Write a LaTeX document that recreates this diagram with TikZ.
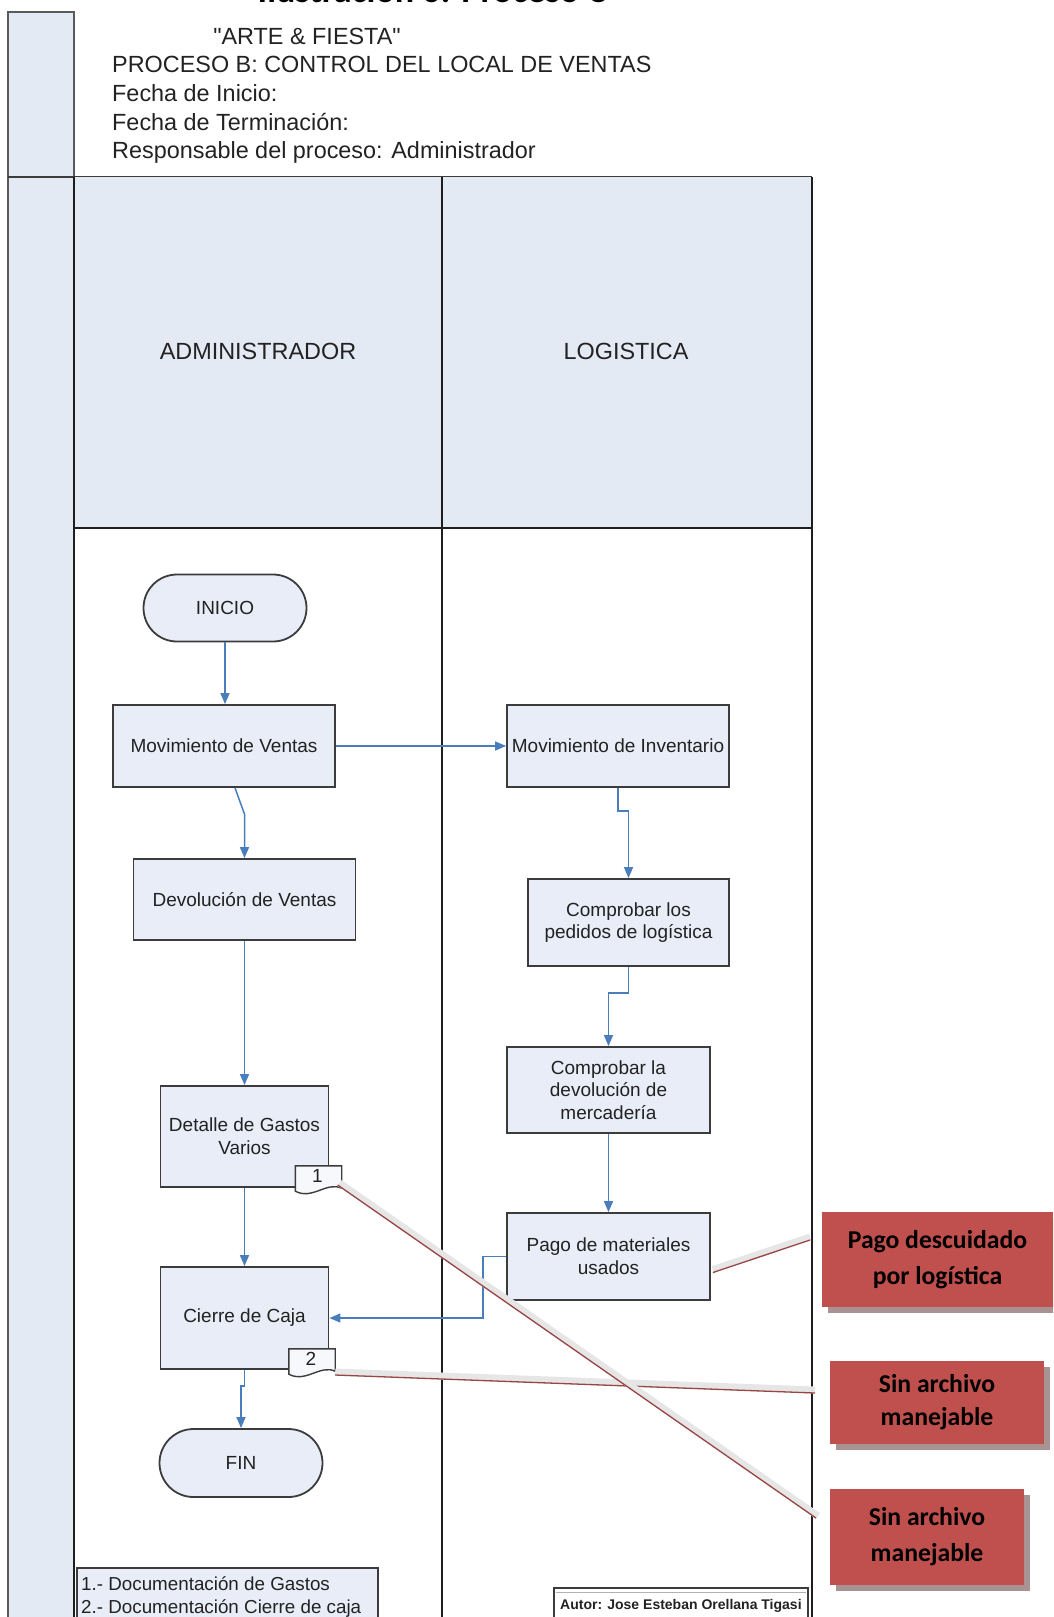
\documentclass[tikz,border=0pt]{standalone}
\usepackage{fontspec}
\setmainfont{Liberation Sans}
\newfontfamily\calib{Carlito}
\usetikzlibrary{arrows.meta,shapes.misc,calc,shadows}
\definecolor{laneblue}{HTML}{E4EAF4}
\definecolor{boxfill}{HTML}{E8EDF7}
\definecolor{boxline}{HTML}{3C3C3C}
\definecolor{laneink}{HTML}{1E1E1E}
\definecolor{stripink}{HTML}{5A5A5A}
\definecolor{flowblue}{HTML}{4A7EBB}
\definecolor{alertred}{HTML}{C0504D}
\definecolor{shadowc}{HTML}{A89292}
\definecolor{ribbonc}{HTML}{E6E6E6}
\definecolor{ribbonred}{HTML}{9A4545}
\definecolor{textc}{HTML}{222222}
\begin{document}
\begin{tikzpicture}[x=1pt,y=-1pt,
  laneline/.style={draw=laneink, line width=1.5pt},
  stripline/.style={draw=stripink, line width=1.5pt},
  procbox/.style={draw=boxline, line width=1.8pt, fill=boxfill, align=center, inner sep=2pt, text=textc, font=\fontsize{19}{22.7}\selectfont},
  termbox/.style={rounded rectangle, draw=boxline, line width=1.8pt, fill=boxfill, inner sep=2pt, text=textc, font=\fontsize{19}{22.7}\selectfont},
  flow/.style={draw=flowblue, line width=1.5pt, -{Triangle[length=11pt,width=9pt]}},
  tagnode/.style={minimum width=46pt, minimum height=28pt, inner sep=0pt},
  tagnum/.style={inner sep=0pt, text=textc, font=\fontsize{19}{20}\selectfont},
  tagline/.style={draw=boxline, line width=1.4pt, fill=boxfill!40!white},
  alertbox/.style={fill=alertred, align=center, inner sep=0pt, text=black, font=\calib\bfseries\fontsize{25.7}{36}\selectfont, drop shadow={shadow xshift=6pt, shadow yshift=-6pt, fill=shadowc, opacity=1}},
  ribbon/.style={draw=ribbonc, line width=7pt},
  ribbonedge/.style={draw=ribbonred, line width=1.3pt},
  headtext/.style={font=\fontsize{23.4}{28.8}\selectfont, text=textc, inner sep=0pt},
  legtext/.style={font=\fontsize{18.8}{22.7}\selectfont, text=textc, inner sep=0pt},
  smallbox/.style={draw=boxline, line width=1.5pt},
]
\useasboundingbox (0,0) rectangle (1053,1617);
\clip (0,0) rectangle (1053,1617);

% title fragment cut at top
\node[anchor=base, inner sep=0pt, font=\calib\bfseries\fontsize{36}{40}\selectfont] (title) at (432,2) {Ilustración 6: Proceso C};

% left strip
\fill[laneblue] (8,12) rectangle (74,1630);
\draw[stripline] (8,12) rectangle (74,177);
\draw[stripline] (8,177) -- (8,1630);
% header line
\draw[draw=boxline, line width=2.2pt] (8,177) -- (812,177);
% lanes
\fill[laneblue] (74,177) rectangle (812,528);
\draw[laneline] (74,177) -- (74,1630);
\draw[laneline] (442,177) -- (442,1630);
\draw[laneline] (812,177) -- (812,1630);
\draw[laneline] (74,528) -- (812,528);

% header texts
\node[headtext, anchor=base] (arte) at (307,44.5) {\textquotedbl ARTE \& FIESTA\textquotedbl};
\node[headtext, anchor=base west] (proc) at (112,72.5) {PROCESO B: CONTROL DEL LOCAL DE VENTAS};
\node[headtext, anchor=base west] (fini) at (112,101) {Fecha de Inicio:};
\node[headtext, anchor=base west] (fter) at (112,130) {Fecha de Terminación:};
\node[headtext, anchor=base west] (resp) at (112,158.5) {Responsable del proceso: Administrador};

\node[headtext] (admin) at (258,351) {ADMINISTRADOR};
\node[headtext] (logi) at (626,351) {LOGISTICA};

% process nodes
\node[termbox, minimum width=167pt, minimum height=67pt] (inicio) at (225,608) {INICIO};
\node[procbox, minimum width=222pt, minimum height=82pt] (mv) at (224,746) {Movimiento de Ventas};
\node[procbox, minimum width=222pt, minimum height=81pt] (dv) at (244.5,899.5) {Devolución de Ventas};
\node[procbox, minimum width=168pt, minimum height=101pt] (dg) at (244.5,1136.5) {Detalle de Gastos\\Varios};
\node[procbox, minimum width=168pt, minimum height=102pt] (cc) at (244.5,1318) {Cierre de Caja};
\node[termbox, minimum width=167pt, minimum height=68pt] (fin) at (241,1463) {FIN};
\node[procbox, minimum width=222pt, minimum height=82pt] (mi) at (618,746) {Movimiento de Inventario};
\node[procbox, minimum width=201pt, minimum height=87pt] (cp) at (628.5,922.5) {Comprobar los\\pedidos de logística};
\node[procbox, minimum width=203pt, minimum height=86pt] (cd) at (608.5,1090) {Comprobar la\\devolución de\\mercadería};
\node[procbox, minimum width=203pt, minimum height=87pt] (pm) at (608.5,1256.5) {Pago de materiales\\usados};

% connectors
\draw[flow] (inicio.south) -- (inicio.south |- mv.north);
\draw[flow] (mv.east) -- (mi.west);
\draw[flow] ($(mv.south)+(11,0)$) -- ($(dv.north)+(0,-44)$) -- (dv.north);
\draw[flow] (dv.south) -- (dg.north);
\draw[flow] (dg.south) -- (cc.north);
\draw[flow] (cc.south) -- ++(0,16) -| (fin.north);
\draw[flow] (mi.south) -- ++(0,23) -| (cp.north);
\draw[flow] (cp.south) -- ++(0,26) -| (cd.north);
\draw[flow] (cd.south) -- (pm.north);
\draw[flow] (pm.west) -- ++(-23,0) |- (cc.east);

% document tags
\node[tagnode] (t1) at (318.5,1180) {};
\draw[tagline] (t1.north west) -- (t1.north east) -- ($(t1.south east)+(0,-6)$)
  .. controls ($(t1.south)+(8,-13)$) and ($(t1.south)+(-6,6)$) .. ($(t1.south west)+(0,-3)$) -- cycle;
\node[tagnum] (t1n) at ($(t1)+(-1,-4)$) {1};
\node[tagnode] (t2) at (312,1363) {};
\draw[tagline] (t2.north west) -- (t2.north east) -- ($(t2.south east)+(0,-6)$)
  .. controls ($(t2.south)+(8,-13)$) and ($(t2.south)+(-6,6)$) .. ($(t2.south west)+(0,-3)$) -- cycle;
\node[tagnum] (t2n) at ($(t2)+(-1,-4)$) {2};

% legend
\draw[smallbox, fill=boxfill] (77,1568) rectangle (378,1630);
\node[legtext, anchor=base west] (leg1) at (81,1590) {1.- Documentación de Gastos};
\node[legtext, anchor=base west] (leg2) at (81,1613) {2.- Documentación Cierre de caja};

% author
\draw[smallbox, fill=white] (554,1588) rectangle (808,1630);
\draw[draw=gray!60, line width=1pt] (556,1592) -- (806,1592);
\node[anchor=base west, inner sep=0pt, text=textc, font=\bfseries\fontsize{14}{16}\selectfont] (autor) at (560,1609) {Autor: Jose Esteban Orellana Tigasi};

% alert boxes
\node[alertbox, minimum width=231pt, minimum height=95pt] (r1) at (937.5,1259.5) {Pago descuidado\\por logística};
\node[alertbox, minimum width=214pt, minimum height=83pt, font=\calib\bfseries\fontsize{25.7}{33}\selectfont] (r2) at (937,1402.5) {Sin archivo\\manejable};
\node[alertbox, minimum width=194pt, minimum height=96pt] (r3) at (927,1537) {Sin archivo\\manejable};

% callout ribbons
\coordinate (s1) at ($(pm.east)+(2,13)$);
\coordinate (e1) at (810,1237);
\coordinate (s2) at ($(t2.east)+(0,9)$);
\coordinate (e2) at (815,1390);
\coordinate (s3) at ($(t1.east)+(-2,3)$);
\coordinate (e3) at (818,1516);
\draw[ribbon] (s1) -- (e1);
\draw[ribbonedge] ($(s1)+(0,3)$) -- ($(e1)+(0,3)$);
\draw[ribbon] (s2) -- (e2);
\draw[ribbonedge] ($(s2)+(0,3)$) -- ($(e2)+(0,3)$);
\draw[ribbon] (s3) -- (e3);
\draw[ribbonedge] ($(s3)+(-2,2)$) -- ($(e3)+(-2,2)$);
\end{tikzpicture}
\end{document}
